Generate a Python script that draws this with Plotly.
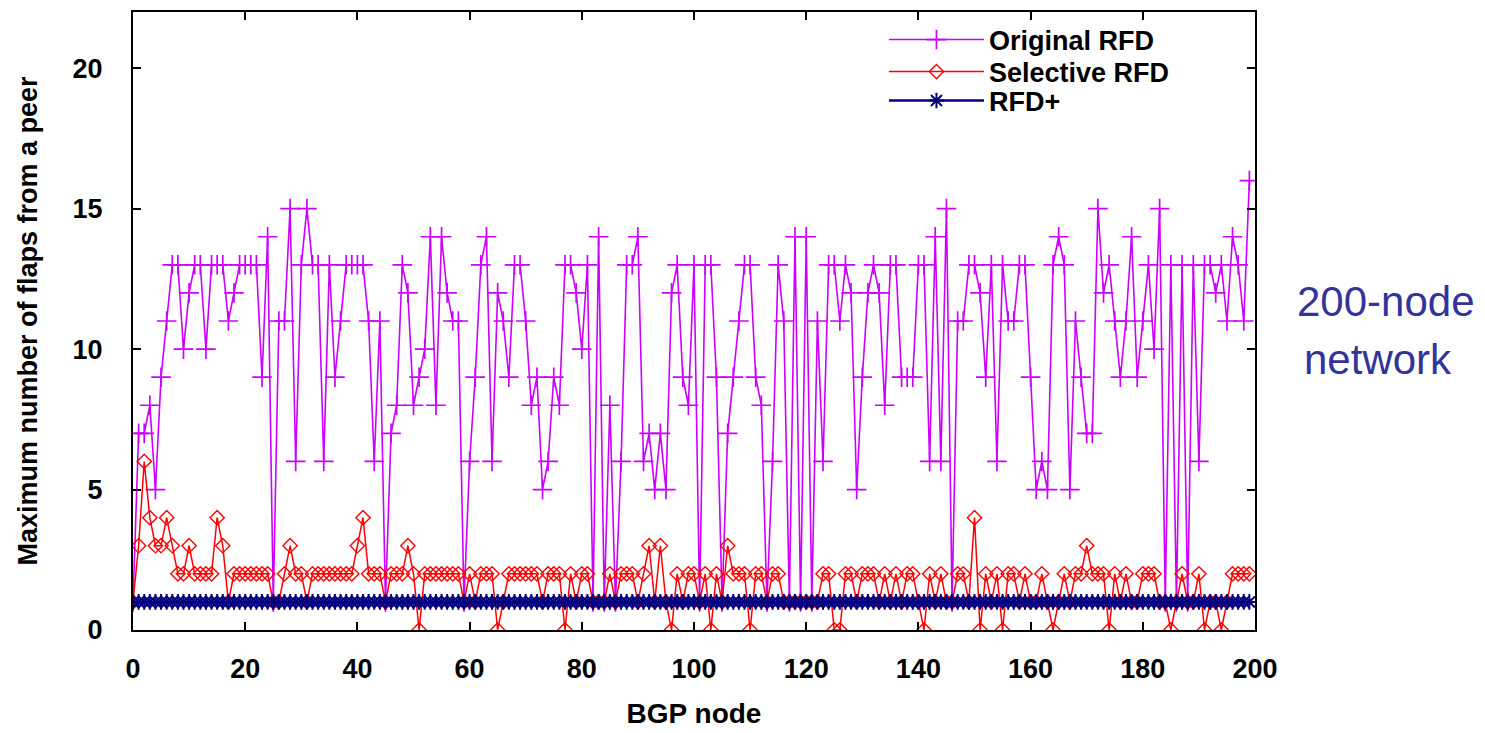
import plotly.graph_objects as go

# ---------------- data ----------------
nodes = list(range(200))

original_rfd = [
    1, 7, 7, 8, 5, 9, 11, 13, 13, 10, 12, 13, 13, 10, 13, 13, 13, 11, 12, 13,
    13, 13, 13, 9, 14, 1, 11, 11, 15, 6, 13, 15, 13, 13, 6, 13, 9, 11, 13, 13,
    13, 13, 11, 6, 11, 1, 7, 8, 13, 12, 8, 9, 10, 14, 8, 14, 12, 11, 11, 1,
    6, 9, 13, 14, 6, 12, 11, 9, 13, 13, 11, 8, 9, 5, 6, 9, 8, 13, 13, 12,
    10, 13, 1, 14, 1, 8, 1, 6, 13, 13, 14, 6, 7, 5, 7, 5, 12, 13, 9, 8,
    13, 1, 13, 13, 9, 1, 7, 9, 11, 13, 13, 9, 8, 1, 6, 13, 11, 1, 14, 1,
    14, 1, 11, 6, 13, 13, 11, 13, 12, 5, 9, 12, 13, 12, 8, 13, 13, 9, 9, 9,
    13, 13, 6, 14, 6, 15, 1, 11, 11, 13, 13, 12, 9, 13, 6, 13, 11, 11, 13, 13,
    9, 5, 6, 5, 13, 14, 13, 5, 11, 9, 7, 7, 15, 12, 13, 11, 9, 11, 14, 9,
    11, 13, 10, 15, 1, 13, 1, 13, 1, 13, 6, 13, 13, 12, 13, 11, 14, 13, 11, 16,
]

selective_rfd = [
    1, 3, 6, 4, 3, 3, 4, 3, 2, 2, 3, 2, 2, 2, 2, 4, 3, 1, 2, 2,
    2, 2, 2, 2, 2, 1, 1, 2, 3, 2, 2, 1, 2, 2, 2, 2, 2, 2, 2, 2,
    3, 4, 2, 2, 2, 1, 2, 2, 2, 3, 2, 0, 2, 2, 2, 2, 2, 2, 2, 1,
    2, 1, 2, 2, 2, 0, 1, 2, 2, 2, 2, 2, 2, 1, 2, 2, 2, 0, 2, 1,
    2, 2, 1, 1, 1, 2, 1, 2, 2, 2, 1, 2, 3, 1, 3, 1, 0, 2, 1, 2,
    2, 1, 2, 0, 2, 1, 3, 2, 2, 2, 0, 2, 2, 1, 2, 2, 1, 1, 1, 1,
    1, 1, 1, 2, 2, 0, 0, 2, 2, 1, 2, 2, 2, 1, 2, 1, 2, 1, 2, 2,
    1, 0, 2, 1, 2, 1, 1, 2, 2, 1, 4, 0, 2, 1, 2, 0, 2, 2, 1, 2,
    1, 1, 2, 1, 0, 1, 2, 1, 2, 2, 3, 2, 2, 2, 0, 2, 1, 2, 1, 1,
    2, 2, 2, 1, 1, 0, 1, 2, 1, 1, 2, 0, 1, 1, 0, 1, 2, 2, 2, 2,
]

rfd_plus = [
    1, 1, 1, 1, 1, 1, 1, 1, 1, 1, 1, 1, 1, 1, 1, 1, 1, 1, 1, 1,
    1, 1, 1, 1, 1, 1, 1, 1, 1, 1, 1, 1, 1, 1, 1, 1, 1, 1, 1, 1,
    1, 1, 1, 1, 1, 1, 1, 1, 1, 1, 1, 1, 1, 1, 1, 1, 1, 1, 1, 1,
    1, 1, 1, 1, 1, 1, 1, 1, 1, 1, 1, 1, 1, 1, 1, 1, 1, 1, 1, 1,
    1, 1, 1, 1, 1, 1, 1, 1, 1, 1, 1, 1, 1, 1, 1, 1, 1, 1, 1, 1,
    1, 1, 1, 1, 1, 1, 1, 1, 1, 1, 1, 1, 1, 1, 1, 1, 1, 1, 1, 1,
    1, 1, 1, 1, 1, 1, 1, 1, 1, 1, 1, 1, 1, 1, 1, 1, 1, 1, 1, 1,
    1, 1, 1, 1, 1, 1, 1, 1, 1, 1, 1, 1, 1, 1, 1, 1, 1, 1, 1, 1,
    1, 1, 1, 1, 1, 1, 1, 1, 1, 1, 1, 1, 1, 1, 1, 1, 1, 1, 1, 1,
    1, 1, 1, 1, 1, 1, 1, 1, 1, 1, 1, 1, 1, 1, 1, 1, 1, 1, 1, 1,
]

series_names = ["Original RFD", "Selective RFD", "RFD+"]
x_ticks = [0, 20, 40, 60, 80, 100, 120, 140, 160, 180, 200]
y_ticks = [0, 5, 10, 15, 20]
x_title = "BGP node"
y_title = "Maximum number of flaps from a peer"
side_note = ["200-node", "network"]

# ---------------- figure ----------------
FONT = "Liberation Sans, Arial, sans-serif"
TXT = dict(family=FONT, size=27, color="black", weight="bold")

fig = go.Figure()

fig.add_trace(go.Scatter(
    x=nodes, y=original_rfd, name=series_names[0], mode="lines+markers",
    legend="legend", showlegend=True,
    line=dict(color="#cc00ff", width=1.6),
    marker=dict(symbol="cross-thin-open", size=14,
                line=dict(color="#cc00ff", width=1.7)),
))
fig.add_trace(go.Scatter(
    x=nodes, y=selective_rfd, name=series_names[1], mode="lines+markers",
    legend="legend2", showlegend=True,
    line=dict(color="#ff0000", width=1.5),
    marker=dict(symbol="diamond-open", size=11, color="#ff0000",
                line=dict(color="#ff0000", width=1.4)),
))
fig.add_trace(go.Scatter(
    x=nodes, y=rfd_plus, name=series_names[2], mode="lines+markers",
    legend="legend3", showlegend=True,
    line=dict(color="#000080", width=2.5),
    marker=dict(symbol="asterisk-open", size=13,
                line=dict(color="#000080", width=2)),
))

axis_common = dict(
    showline=True, linecolor="black", linewidth=2, mirror="ticks",
    ticks="inside", ticklen=8, tickwidth=1.5, tickcolor="black",
    showgrid=False, zeroline=False,
    tickfont=TXT,
)

fig.update_xaxes(
    range=[0, 200], tickvals=x_ticks, ticktext=[str(v) for v in x_ticks],
    ticklabelstandoff=14,
    title=dict(text=x_title, font=dict(TXT, size=28), standoff=20),
    **axis_common,
)
fig.update_yaxes(
    range=[0, 22], tickvals=y_ticks, ticktext=[str(v) for v in y_ticks],
    ticklabelstandoff=23,
    title=dict(text=y_title, font=dict(TXT, size=27), standoff=27),
    **axis_common,
)

note_font = dict(family=FONT, size=42, color="#333399")
fig.add_annotation(xref="paper", yref="paper", x=1.1168, y=0.531,
                   xanchor="center", yanchor="middle",
                   text=side_note[0], showarrow=False, font=note_font)
fig.add_annotation(xref="paper", yref="paper", x=1.110, y=0.437,
                   xanchor="center", yanchor="middle",
                   text=side_note[1], showarrow=False, font=note_font)

legend_common = dict(
    x=0.6693, xanchor="left", yanchor="middle",
    bgcolor="rgba(0,0,0,0)", borderwidth=0, itemwidth=95,
    font=dict(TXT, size=27), visible=True,
)

fig.update_layout(
    width=1477, height=725,
    margin=dict(l=125, r=230, t=4, b=103, autoexpand=False),
    paper_bgcolor="white", plot_bgcolor="white",
    showlegend=True,
    legend=dict(legend_common, y=0.9547),
    legend2=dict(legend_common, y=0.9029),
    legend3=dict(legend_common, y=0.856),
)

fig.write_html("out.html")
